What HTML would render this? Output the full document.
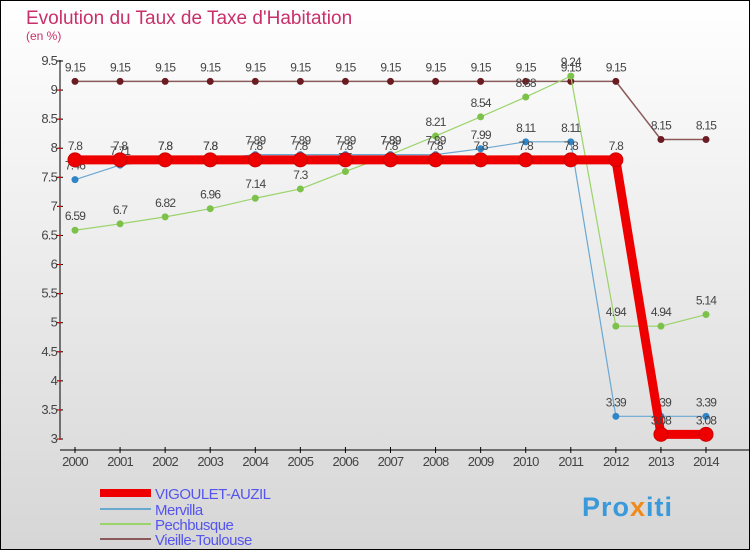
<!DOCTYPE html>
<html><head><meta charset="utf-8"><style>
html,body{margin:0;padding:0}
body{width:750px;height:550px;overflow:hidden;font-family:"Liberation Sans",sans-serif}
</style></head><body>
<svg id="chart" width="750" height="550" xmlns="http://www.w3.org/2000/svg">
<defs><linearGradient id="bg" x1="0" y1="0" x2="0" y2="1"><stop offset="0" stop-color="#ffffff"/><stop offset="1" stop-color="#d6d6d6"/></linearGradient></defs>
<rect x="0.5" y="0.5" width="749" height="549" fill="url(#bg)" stroke="#000" stroke-width="1"/>
<text x="26" y="24" font-size="19" fill="#c8306a">Evolution du Taux de Taxe d'Habitation</text>
<text x="26" y="40" font-size="12" fill="#c8306a">(en %)</text>
<g id="axes"></g><g id="series"></g><g id="legend"></g>
<text x="582" y="516" font-size="27" font-weight="bold" fill="#3a9ad9" letter-spacing="1">Pro<tspan fill="#f08a1c">x</tspan>iti</text>
</svg>
<script>
const years=[2000,2001,2002,2003,2004,2005,2006,2007,2008,2009,2010,2011,2012,2013,2014];
const yTicks=[3,3.5,4,4.5,5,5.5,6,6.5,7,7.5,8,8.5,9,9.5];
const seriesNames=["VIGOULET-AUZIL","Mervilla","Pechbusque","Vieille-Toulouse"];
const vigoulet=[7.8,7.8,7.8,7.8,7.8,7.8,7.8,7.8,7.8,7.8,7.8,7.8,7.8,3.08,3.08];
const mervilla=[7.46,7.71,7.8,7.8,7.89,7.89,7.89,7.89,7.89,7.99,8.11,8.11,3.39,3.39,3.39];
const pechbusque=[6.59,6.7,6.82,6.96,7.14,7.3,7.6,7.89,8.21,8.54,8.88,9.24,4.94,4.94,5.14];
const vieille=[9.15,9.15,9.15,9.15,9.15,9.15,9.15,9.15,9.15,9.15,9.15,9.15,9.15,8.15,8.15];
const NS="http://www.w3.org/2000/svg";
function xs(i){return 75+i*(706-75)/(years.length-1);}
function ys(v){return 439-(v-3)*(439-61)/6.5;}
function mk(tag,attrs,parent,txt){const e=document.createElementNS(NS,tag);for(const k in attrs)e.setAttribute(k,attrs[k]);if(txt!==undefined)e.textContent=txt;parent.appendChild(e);return e;}
const axes=document.getElementById('axes');
let e=mk('line',{x1:60,y1:60,x2:60,y2:440,stroke:'#000','stroke-width':1},axes);

e=mk('line',{x1:60,y1:450,x2:750,y2:450,stroke:'#000','stroke-width':1},axes);

yTicks.forEach(t=>{const y=ys(t);
 mk('line',{x1:57,y1:y,x2:63,y2:y,stroke:'#000'},axes);
 mk('line',{x1:58,y1:y+29.08,x2:61,y2:y+29.08,stroke:t>3?'#e00':'none'},axes);
 const l=mk('text',{x:57,y:y+4,'font-size':13,fill:'#444','text-anchor':'end','letter-spacing':'-0.8'},axes,String(t));
 });
years.forEach((yr,i)=>{const x=xs(i);
 mk('line',{x1:x,y1:447,x2:x,y2:453,stroke:'#000'},axes);
 const l=mk('text',{x:x,y:466,'font-size':13,fill:'#444','text-anchor':'middle','letter-spacing':'-0.8'},axes,String(yr));
 });
const ser=document.getElementById('series');
const defs=[[vieille,'#8a5a5a','#6b1c22',1.5,3.5,'vieille-toulouse'],[pechbusque,'#99d36a','#7cc24a',1.2,3.5,'pechbusque'],[mervilla,'#6aa8d2','#2e86c8',1.2,3.5,'mervilla'],[vigoulet,'#ee0000','#ee0000',9,7,'vigoulet-auzil']];
defs.forEach(([d,lc,pc,w,r,nm])=>{
 const g=mk('g',{},ser);
 
 const p=mk('polyline',{points:d.map((v,i)=>xs(i)+','+ys(v)).join(' '),fill:'none',stroke:lc,'stroke-width':w,'stroke-linejoin':'round'},g);
 
 d.forEach((v,i)=>{
  const c=mk('circle',{cx:xs(i),cy:ys(v),r:r,fill:pc,stroke:nm==='vigoulet-auzil'?'#c00':'none'},g);
  
  const t=mk('text',{x:xs(i),y:ys(v)-10,'font-size':12,fill:'#444','text-anchor':'middle','letter-spacing':'-0.8'},g,String(v));
  
 });
});
const leg=document.getElementById('legend');
const legY=[493,509,524,539];
defs.slice().reverse().forEach(([d,lc,pc,w,r,nm],k)=>{
 const g=mk('g',{},leg);
 
 mk('line',{x1:100,y1:legY[k],x2:151,y2:legY[k],stroke:lc,'stroke-width':k===0?8:2},g);
 mk('text',{x:155,y:legY[k]+6,'font-size':15,fill:'#5555ee','letter-spacing':'-0.5'},g,seriesNames[k]);
});
</script>
</body></html>
